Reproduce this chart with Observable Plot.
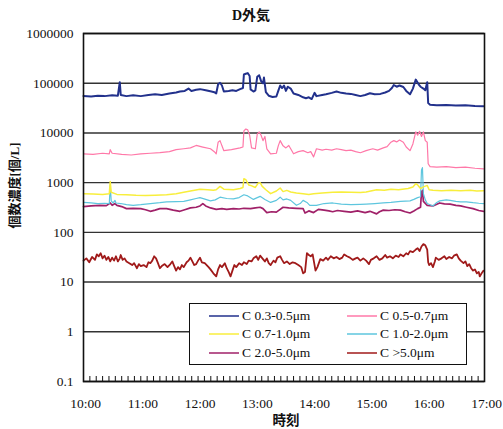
<!DOCTYPE html>
<html><head><meta charset="utf-8">
<script src="https://cdn.jsdelivr.net/npm/d3@7"></script>
<script src="https://cdn.jsdelivr.net/npm/@observablehq/plot@0.6"></script>
<style>
body{margin:0;background:#fff;}
#wrap{position:relative;width:503px;height:429px;overflow:hidden;}
#legend{position:absolute;left:189px;top:303px;width:276px;height:60px;border:1.5px solid #111;background:#fff;font-family:"Liberation Serif",serif;font-size:13.5px;color:#111;}
.ent{position:absolute;height:16px;display:flex;align-items:center;}
.ent svg{margin-right:3px;}
</style></head><body><div id="wrap"></div>
<script>
const title = "D外気";
const yLabel = "個数濃度[個/L]";
const xLabel = "時刻";
const seriesNames = ["C 0.3-0.5μm","C 0.5-0.7μm","C 0.7-1.0μm","C 1.0-2.0μm","C 2.0-5.0μm","C >5.0μm"];
const seriesColors = ["#22318c","#ff78a8","#f8ee3c","#5ec6de","#a02068","#a01a1a"];
const seriesWidths = [2,1.2,1.5,1.2,1.7,1.8];
const hourTicks = [0,60,120,180,240,300,360,420];
const hourLabels = ["10:00","11:00","12:00","13:00","14:00","15:00","16:00","17:00"];
const yTicks = [0.1,1,10,100,1000,10000,100000,1000000];
const yTickLabels = ["0.1","1","10","100","1000","10000","100000","1000000"];

// [minutes after 10:00, count per L]
const c03_05 = [[0,55000],[8,54000],[15,56000],[22,55000],[30,57000],[36,56000],[38,105000],[39,58000],[45,55000],[52,57000],[60,55000],[68,58000],[75,60000],[82,58000],[90,62000],[97,65000],[101,68000],[106,70000],[110,78000],[113,70000],[118,74000],[122,76000],[128,72000],[134,68000],[137,66000],[139,62000],[141,95000],[143,102000],[145,90000],[147,68000],[152,70000],[156,72000],[160,70000],[164,76000],[167,80000],[168,150000],[170,155000],[172,160000],[174,140000],[175,75000],[178,68000],[180,72000],[182,135000],[184,145000],[186,110000],[188,100000],[189,130000],[191,66000],[194,56000],[198,53000],[202,54000],[204,70000],[206,90000],[208,80000],[210,90000],[212,70000],[214,85000],[217,78000],[220,62000],[225,58000],[230,52000],[233,50000],[236,52000],[239,48000],[242,64000],[244,55000],[250,58000],[254,60000],[260,64000],[265,68000],[270,64000],[275,62000],[280,61000],[285,58000],[290,55000],[295,58000],[300,63000],[305,60000],[311,61000],[316,65000],[320,70000],[323,80000],[325,92000],[328,85000],[331,90000],[335,84000],[338,70000],[342,60000],[345,78000],[348,118000],[351,95000],[353,85000],[356,78000],[358,72000],[360,105000],[361,40000],[363,37000],[370,36000],[380,36500],[390,35500],[400,36000],[410,35000],[419,34500]];
const c05_07 = [[0,3800],[10,3700],[20,3900],[27,3800],[28,4600],[30,3900],[40,3700],[50,3600],[60,3800],[70,3900],[80,4000],[90,4200],[97,4600],[105,4800],[112,5000],[118,5600],[125,5200],[133,4800],[137,4200],[139,3800],[141,6500],[143,7000],[145,5500],[147,4400],[155,4600],[164,5000],[167,5200],[168,11000],[170,12000],[172,11500],[174,9000],[176,5000],[180,4800],[182,9500],[184,10500],[186,9000],[188,7000],[190,8500],[192,4800],[196,3800],[202,3900],[204,5500],[206,7000],[209,5500],[212,5000],[215,5600],[217,4800],[220,3800],[225,4200],[230,4400],[235,4000],[238,4200],[241,3300],[244,4800],[250,4500],[254,4700],[260,4500],[265,4800],[270,4600],[275,4400],[280,4500],[285,4200],[290,4000],[296,4400],[303,4800],[308,4500],[314,5000],[318,5300],[322,6500],[325,7000],[328,6600],[331,7200],[335,6500],[338,5200],[342,4400],[345,6000],[348,10500],[350,9000],[352,10800],[354,8500],[356,10500],[358,7000],[360,6500],[361,2400],[363,2100],[370,2050],[380,2100],[390,2000],[400,2050],[410,1950],[419,1900]];
const c07_10 = [[0,600],[10,590],[20,580],[27,600],[28,1050],[29,640],[35,580],[45,570],[55,555],[65,550],[75,560],[87,570],[97,600],[105,640],[112,680],[122,740],[130,720],[136,700],[139,720],[143,840],[147,740],[157,720],[164,760],[167,800],[168,1200],[170,1150],[173,900],[175,880],[180,800],[183,980],[185,1000],[187,850],[191,720],[196,600],[202,680],[206,780],[209,660],[213,700],[217,650],[223,620],[230,600],[236,580],[241,600],[250,620],[261,640],[270,650],[280,640],[290,630],[296,650],[307,720],[315,700],[322,740],[330,720],[340,760],[345,820],[348,950],[350,900],[353,760],[356,820],[360,880],[362,720],[366,700],[375,690],[385,700],[395,690],[405,700],[412,680],[419,690]];
const c10_20 = [[0,400],[8,390],[15,380],[22,385],[27,380],[28,900],[29,430],[31,390],[33,440],[34,390],[39,380],[45,360],[52,350],[60,360],[70,380],[80,395],[87,410],[97,415],[105,420],[112,450],[118,480],[122,500],[128,460],[133,430],[138,450],[143,510],[150,480],[157,470],[163,500],[168,570],[172,540],[178,460],[182,500],[185,530],[190,460],[196,400],[202,440],[206,510],[209,450],[213,470],[217,440],[223,350],[227,380],[230,440],[234,400],[237,350],[244,350],[252,380],[261,390],[270,370],[280,360],[290,365],[296,370],[305,380],[314,390],[322,400],[332,420],[342,430],[346,460],[350,500],[353,520],[354,1800],[355,2000],[356,600],[358,450],[360,380],[363,360],[366,340],[370,400],[373,430],[380,450],[384,440],[390,420],[395,410],[401,410],[408,395],[414,385],[419,380]];
const c20_50 = [[0,330],[8,340],[17,350],[24,345],[28,390],[30,350],[33,380],[35,350],[40,330],[45,300],[52,305],[60,300],[65,285],[70,265],[75,280],[80,300],[87,300],[94,280],[101,265],[106,285],[112,310],[118,320],[122,340],[125,380],[128,340],[133,310],[139,290],[145,300],[150,290],[157,300],[163,295],[168,305],[175,300],[180,310],[185,320],[188,300],[192,250],[197,260],[202,255],[206,290],[209,320],[215,310],[223,305],[230,300],[232,245],[236,270],[241,250],[246,290],[252,280],[257,270],[261,260],[266,275],[273,265],[280,255],[287,270],[295,250],[300,265],[307,235],[310,260],[314,280],[320,275],[326,285],[332,280],[337,260],[342,245],[346,270],[350,300],[353,320],[354,650],[355,700],[356,420],[360,350],[366,340],[373,390],[378,375],[384,370],[390,350],[395,340],[401,320],[408,300],[414,275],[419,265]];
const c50up = [[0,27],[3,30],[6,25],[9,32],[12,28],[14,36],[16,33],[18,38],[20,30],[22,34],[24,28],[26,32],[28,26],[30,31],[32,27],[34,33],[36,26],[38,30],[39,35],[41,28],[43,30],[45,26],[48,24],[51,22],[53,24],[56,19],[58,23],[60,21],[63,22],[66,20],[68,25],[70,24],[72,27],[74,33],[76,30],[78,24],[80,19],[82,21],[85,23],[88,20],[91,23],[93,26],[95,21],[97,17],[99,20],[101,18],[103,22],[105,20],[108,25],[110,27],[112,31],[114,26],[116,22],[118,23],[120,27],[122,31],[124,25],[127,24],[129,22],[131,20],[133,18],[136,15],[139,13],[141,18],[143,22],[145,20],[148,24],[150,19],[152,16],[154,13],[156,17],[158,22],[160,20],[163,24],[166,22],[168,25],[171,23],[173,27],[176,26],[178,30],[181,33],[183,28],[185,34],[188,29],[190,26],[192,30],[194,24],[196,22],[199,27],[201,25],[203,31],[206,33],[208,28],[210,24],[213,26],[216,23],[219,25],[222,24],[225,22],[228,20],[230,15],[232,16],[234,38],[236,35],[238,33],[240,36],[242,22],[243,17],[245,20],[248,29],[251,27],[254,31],[256,28],[259,33],[262,30],[265,32],[268,29],[271,31],[273,36],[276,33],[279,31],[282,28],[285,30],[287,31],[290,27],[293,30],[296,27],[299,23],[301,28],[304,30],[307,33],[310,28],[313,30],[316,35],[318,31],[321,33],[324,30],[327,34],[330,32],[332,36],[335,33],[338,38],[340,36],[342,42],[345,40],[348,45],[350,48],[352,42],[354,52],[356,58],[358,55],[360,45],[361,25],[362,22],[364,24],[366,20],[368,26],[369,31],[372,28],[375,30],[378,33],[380,29],[383,32],[386,30],[388,34],[391,36],[393,30],[395,27],[398,24],[400,26],[402,21],[404,23],[406,19],[408,17],[410,18],[412,15],[414,16],[415,13],[417,15],[419,17]];

const allSeries = [c03_05, c05_07, c07_10, c10_20, c20_50, c50up];
const minorTicks = d3.range(0, 420.001, 20/3);
const serif = '"Liberation Serif","Noto Sans CJK JP",serif';
const cjk = '"Liberation Serif","Noto Sans CJK JP",sans-serif';

const drawOrder = [5,4,3,2,1,0];
const lineMarks = drawOrder.map(i => Plot.line(allSeries[i], {x: d => d[0], y: d => d[1], stroke: seriesColors[i], strokeWidth: seriesWidths[i], strokeLinejoin: "round"}));

const chart = Plot.plot({
  width: 503, height: 429,
  marginLeft: 83, marginRight: 19, marginTop: 33, marginBottom: 48,
  style: {fontFamily: serif, fontSize: "13.5px", color: "#111", background: "#fff", overflow: "visible"},
  x: {type: "linear", domain: [0, 420], axis: null},
  y: {type: "log", domain: [0.1, 1000000], axis: null},
  marks: [
    Plot.ruleY(yTicks, {stroke: "#333", strokeWidth: 1.4}),
    ...lineMarks,
    Plot.tickX(minorTicks, {x: d => d, stroke: "#111", strokeWidth: 1, insetTop: 343}),
    Plot.frame({stroke: "#111", strokeWidth: 1.6}),
    Plot.text(yTicks, {y: d => d, text: (d, i) => yTickLabels[i], frameAnchor: "left", textAnchor: "end", dx: -10, fontSize: 13.5, fontFamily: serif, fill: "#111"}),
    Plot.text(hourTicks, {x: d => d, text: (d, i) => hourLabels[i], frameAnchor: "bottom", lineAnchor: "middle", dx: 2, dy: 22, fontSize: 13.5, fontFamily: serif, fill: "#111"}),
    Plot.text([title], {frameAnchor: "top", lineAnchor: "middle", dx: -33, dy: -18, fontSize: 14, fontWeight: "bold", fontFamily: cjk}),
    Plot.text([xLabel], {frameAnchor: "bottom", lineAnchor: "middle", dx: 2, dy: 39, fontSize: 13.5, fontWeight: "bold", fontFamily: cjk}),
    Plot.text([yLabel], {frameAnchor: "left", textAnchor: "middle", lineAnchor: "middle", dx: -69, dy: -22, rotate: -90, fontSize: 13, fontWeight: "bold", fontFamily: cjk})
  ]
});
const wrap = document.getElementById("wrap");
wrap.appendChild(chart);

// legend overlay
const lg = document.createElement("div");
lg.id = "legend";
const colX = [[19, 51], [157, 189]];
const rowY = [4, 22, 41];
seriesNames.forEach((name, i) => {
  const c = i % 2, r = Math.floor(i / 2);
  const e = document.createElement("div");
  e.className = "ent";
  e.style.left = colX[c][0] + "px";
  e.style.top = rowY[r] + "px";
  e.innerHTML = `<svg width="30" height="4"><line x1="0" x2="30" y1="2" y2="2" stroke="${seriesColors[i]}" stroke-width="1.5"/></svg><span>${name}</span>`;
  lg.appendChild(e);
});
wrap.appendChild(lg);
</script></body></html>
